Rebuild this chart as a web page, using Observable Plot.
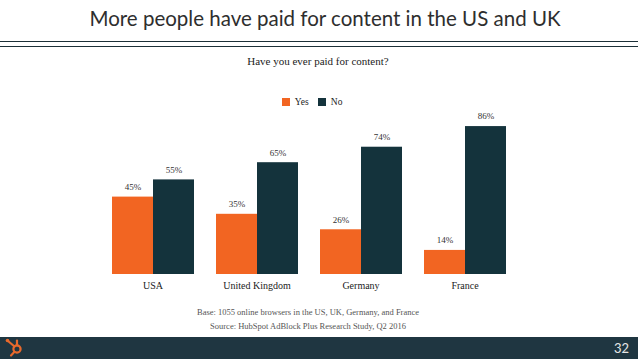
<!DOCTYPE html>
<html><head><meta charset="utf-8">
<script src="https://cdn.jsdelivr.net/npm/d3@7"></script>
<script src="https://cdn.jsdelivr.net/npm/@observablehq/plot@0.6"></script>
<style>
body{margin:0;background:#fff;}
#page{position:relative;width:638px;height:359px;overflow:hidden;background:#fff;}
#title{position:absolute;left:0;top:6px;width:650px;text-align:center;font-family:Lato,"Open Sans",sans-serif;font-size:20.5px;color:#2e2e2e;}
.rule{position:absolute;left:0;width:638px;height:1.5px;background:#1c3038;}
#subtitle{position:absolute;left:0;top:55px;width:636px;text-align:center;font-family:"Liberation Serif",serif;font-size:11px;color:#222;}
#legend{position:absolute;left:282px;top:85px;}
#legend *{font-family:"Liberation Serif",serif !important;font-size:9.5px !important;color:#222;}
#chart{position:absolute;left:0;top:70px;}
.note{position:absolute;left:0;width:616px;text-align:center;font-family:"Liberation Serif",serif;font-size:8.5px;color:#555;}
#footer{position:absolute;left:0;top:337px;width:638px;height:22px;background:#1f3641;}
#pg{position:absolute;right:9px;top:3px;font-family:Lato,"Open Sans",sans-serif;font-size:13px;color:#e6e6e6;}
</style></head><body>
<div id="page">
<div id="title">More people have paid for content in the US and UK</div>
<div class="rule" style="top:40.5px"></div>
<div class="rule" style="top:45.5px"></div>
<div id="subtitle">Have you ever paid for content?</div>
<div id="legend"></div>
<div id="chart"></div>
<div class="note" style="top:307px">Base: 1055 online browsers in the US, UK, Germany, and France</div>
<div class="note" style="top:321px">Source: HubSpot AdBlock Plus Research Study, Q2 2016</div>
<div id="footer">
<svg width="26" height="22" style="position:absolute;left:3px;top:0">
<g stroke="#e8692c" fill="none" stroke-width="2.2" stroke-linecap="round">
<circle cx="14" cy="12" r="3.6"/>
<line x1="11.5" y1="9.5" x2="5" y2="4"/>
<line x1="14" y1="8.4" x2="14" y2="3.5"/>
<line x1="11.5" y1="14.8" x2="8" y2="18.5"/>
</g>
<circle cx="4.5" cy="3.5" r="1.8" fill="#e8692c"/>
</svg>
<span id="pg">32</span>
</div>
</div>
<script>
const countries = ["USA", "United Kingdom", "Germany", "France"];
const answers = ["Yes", "No"];
const yesValues = [45, 35, 26, 14];
const noValues = [55, 65, 74, 86];
const colors = ["#f26522", "#14333c"];

const data = countries.flatMap((c, i) => [
  {country: c, answer: answers[0], value: yesValues[i]},
  {country: c, answer: answers[1], value: noValues[i]}
]);

const chart = Plot.plot({
  width: 638,
  height: 230,
  marginTop: 32,
  marginBottom: 26,
  marginLeft: 110,
  marginRight: 131,
  style: {background: "transparent", fontFamily: "'Liberation Serif', serif", fontSize: "10px", color: "#222"},
  facet: {data: data, x: "country"},
  fx: {domain: countries, paddingInner: 0.2, paddingOuter: 0, axis: "bottom", label: null, tickSize: 0, tickPadding: 7},
  x: {domain: answers, padding: 0, axis: null},
  y: {domain: [0, 100], axis: null},
  color: {domain: answers, range: colors},
  marks: [
    Plot.barY(data, {x: "answer", y: "value", fill: "answer"}),
    Plot.text(data, {x: "answer", y: "value", text: d => d.value + "%", dy: -10, fontSize: 9, fill: "#333"})
  ]
});
document.getElementById("chart").appendChild(chart);

const legend = Plot.legend({color: {domain: answers, range: colors}, swatchSize: 8});
document.getElementById("legend").appendChild(legend);
</script>
</body></html>
